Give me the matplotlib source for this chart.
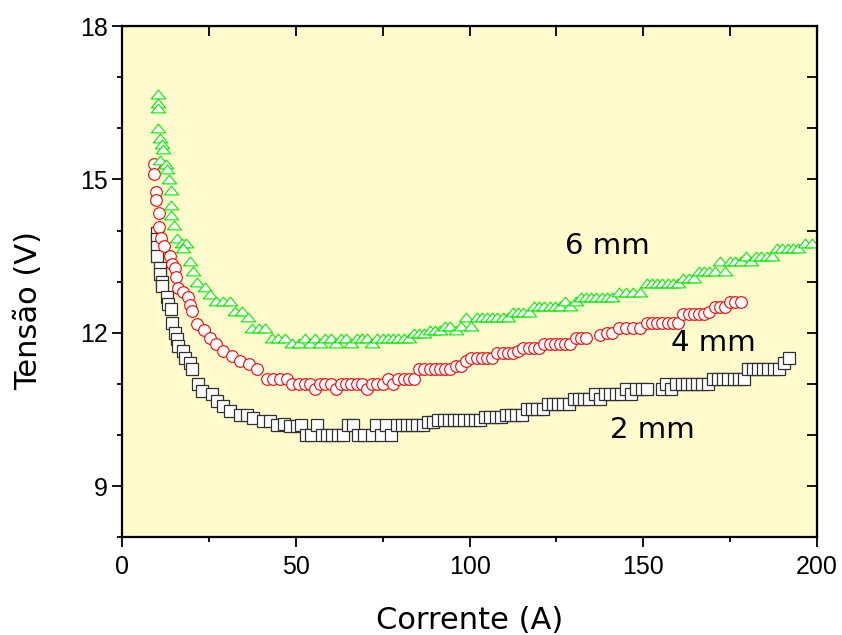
import matplotlib
matplotlib.use('Agg')
import matplotlib.pyplot as plt
from matplotlib.ticker import MultipleLocator

plt.rcParams['font.family'] = ['Liberation Sans', 'DejaVu Sans']

# 2 mm (squares)
sq_x = [10.0, 10.0, 10.0, 10.0, 10.9, 10.9, 11.4, 11.6, 12.9, 13.3, 14.1, 14.3, 15.3, 15.7, 16.2,
        17.6, 18.1, 19.6, 20.0, 21.9, 22.9, 25.8, 27.2, 29.1, 31.0, 34.0, 36.0, 37.7, 40.6, 42.5,
        44.5, 46.5, 48.3, 50.3, 51.5, 53.0, 54.5, 56.0, 57.5, 59.0, 60.5, 62.0, 63.5, 65.0, 66.5,
        68.0, 69.5, 72.0, 73.0, 74.5, 76.0, 77.5, 79.0, 80.5, 82.0, 83.5, 85.0, 86.5, 88.0, 89.5,
        91.0, 92.5, 94.0, 95.5, 97.0, 98.5, 100.0, 101.5, 103.0, 104.5, 106.0, 107.5, 109.0, 110.5,
        112.0, 113.5, 115.0, 116.5, 118.0, 119.5, 121.0, 122.5, 124.0, 125.5, 127.0, 128.5, 130.0,
        131.5, 133.0, 134.5, 136.0, 137.5, 139.0, 140.5, 142.0, 143.5, 145.0, 146.5, 148.0, 149.5,
        151.0, 155.5, 156.5, 158.0, 159.5, 161.0, 162.5, 164.0, 165.5, 167.0, 168.5, 170.0, 171.5,
        173.0, 174.5, 176.0, 177.5, 179.0, 180.0, 181.5, 183.0, 184.5, 186.0, 187.5, 189.0, 190.5,
        192.0]
sq_y = [13.96, 13.84, 13.67, 13.5, 13.27, 13.15, 13.0, 12.92, 12.69, 12.57, 12.47, 12.2, 12.0,
        11.88, 11.75, 11.65, 11.5, 11.4, 11.3, 11.0, 10.86, 10.8, 10.67, 10.57, 10.47, 10.4, 10.4,
        10.33, 10.27, 10.27, 10.2, 10.22, 10.18, 10.18, 10.2, 10.0, 10.0, 10.2, 10.0, 10.0, 10.0,
        10.0, 10.0, 10.2, 10.2, 10.0, 10.0, 10.0, 10.2, 10.0, 10.2, 10.0, 10.2, 10.2, 10.2, 10.2,
        10.2, 10.2, 10.25, 10.25, 10.3, 10.3, 10.3, 10.3, 10.3, 10.3, 10.3, 10.3, 10.3, 10.35,
        10.35, 10.35, 10.35, 10.4, 10.4, 10.4, 10.4, 10.5, 10.5, 10.5, 10.5, 10.6, 10.6, 10.6,
        10.6, 10.6, 10.7, 10.7, 10.7, 10.7, 10.8, 10.7, 10.8, 10.8, 10.8, 10.8, 10.9, 10.8, 10.9,
        10.9, 10.9, 10.9, 11.0, 10.9, 11.0, 11.0, 11.0, 11.0, 11.0, 11.0, 11.0, 11.1, 11.1, 11.1,
        11.1, 11.1, 11.1, 11.1, 11.3, 11.3, 11.3, 11.3, 11.3, 11.3, 11.3, 11.4, 11.5]

# 4 mm (circles)
ci_x = [9.2, 9.3, 9.8, 9.8, 10.5, 10.5, 11.2, 12.0, 13.8, 14.5, 15.3, 15.6, 16.1, 17.5, 19.0,
        19.5, 20.0, 21.6, 23.5, 25.3, 27.0, 29.0, 31.5, 34.0, 36.5, 38.8, 41.7, 43.5, 45.5, 47.5,
        49.0, 51.0, 52.5, 54.0, 55.5, 57.0, 58.5, 60.0, 61.5, 63.0, 64.5, 66.0, 67.5, 69.0, 70.5,
        72.0, 73.5, 75.0, 76.5, 78.0, 79.5, 81.0, 82.5, 84.0, 85.5, 87.0, 88.5, 90.0, 91.5, 93.0,
        94.5, 96.0, 97.5, 99.0, 100.5, 102.0, 103.5, 105.0, 106.5, 108.0, 109.5, 111.0, 112.5,
        114.0, 115.5, 117.0, 118.5, 120.0, 121.5, 123.0, 124.5, 126.0, 127.5, 129.0, 130.5, 132.0,
        133.5, 137.5, 139.5, 141.0, 143.0, 145.0, 147.0, 149.0, 151.0, 152.5, 154.0, 155.5, 157.0,
        158.5, 160.0, 161.5, 163.0, 164.5, 166.0, 167.5, 169.0, 170.5, 172.0, 173.5, 175.0, 176.5,
        178.0]
ci_y = [15.3, 15.1, 14.75, 14.6, 14.35, 14.06, 13.86, 13.7, 13.5, 13.35, 13.27, 13.1, 12.88,
        12.8, 12.7, 12.55, 12.43, 12.18, 12.05, 11.9, 11.78, 11.65, 11.55, 11.45, 11.38, 11.3,
        11.1, 11.1, 11.1, 11.1, 11.0, 11.0, 11.0, 11.0, 10.9, 11.0, 11.0, 11.0, 10.9, 11.0, 11.0,
        11.0, 11.0, 11.0, 10.9, 11.0, 11.0, 11.0, 11.1, 11.0, 11.1, 11.1, 11.1, 11.1, 11.3, 11.3,
        11.3, 11.3, 11.3, 11.3, 11.3, 11.35, 11.35, 11.45, 11.5, 11.5, 11.5, 11.5, 11.5, 11.6,
        11.6, 11.6, 11.6, 11.65, 11.7, 11.7, 11.7, 11.7, 11.78, 11.78, 11.78, 11.78, 11.78, 11.78,
        11.9, 11.9, 11.9, 11.95, 12.0, 12.0, 12.1, 12.1, 12.1, 12.1, 12.2, 12.2, 12.2, 12.2, 12.2,
        12.2, 12.2, 12.37, 12.37, 12.37, 12.37, 12.37, 12.4, 12.5, 12.5, 12.5, 12.6, 12.6, 12.6]

# 6 mm (triangles)
tr_x = [10.4, 10.4, 10.4, 10.4, 11.0, 11.4, 11.8, 11.0, 12.5, 13.0, 13.5, 14.0, 14.0, 14.2,
        14.8, 15.7, 17.2, 18.5, 17.5, 19.6, 20.5, 21.5, 23.8, 25.2, 27.0, 29.0, 31.0, 32.5, 34.5,
        36.2, 37.5, 39.5, 41.0, 43.0, 45.0, 47.0, 49.0, 51.0, 52.5, 54.0, 55.5, 57.0, 58.5, 60.0,
        61.5, 63.0, 64.5, 66.0, 67.5, 69.0, 70.5, 72.0, 73.5, 75.0, 76.5, 78.0, 79.5, 81.0, 82.5,
        84.0, 85.5, 87.0, 88.5, 90.0, 91.5, 93.0, 94.5, 96.0, 97.5, 99.0, 100.5, 102.0, 103.5,
        105.0, 106.5, 108.0, 109.5, 111.0, 112.5, 114.0, 115.5, 117.0, 118.5, 120.0, 121.5, 123.0,
        124.5, 126.0, 127.5, 129.0, 130.5, 132.0, 133.5, 135.0, 136.5, 138.0, 139.5, 141.0, 143.0,
        145.0, 147.0, 149.0, 151.0, 152.5, 154.0, 155.5, 157.0, 158.5, 160.0, 161.5, 163.0, 164.5,
        166.0, 167.5, 169.0, 170.5, 172.0, 173.5, 175.0, 176.5, 178.0, 179.5, 181.0, 182.5, 184.0,
        185.5, 187.0, 188.5, 190.0, 191.5, 193.0, 194.5, 196.5, 198.5]
tr_y = [16.67, 16.5, 16.4, 16.0, 15.8, 15.7, 15.6, 15.37, 15.3, 15.2, 15.0, 14.8, 14.5, 14.3,
        14.1, 13.86, 13.75, 13.75, 13.65, 13.4, 13.2, 13.0, 12.9, 12.76, 12.63, 12.63, 12.63,
        12.43, 12.43, 12.3, 12.1, 12.1, 12.1, 11.9, 11.9, 11.9, 11.8, 11.8, 11.9, 11.8, 11.9, 11.8,
        11.9, 11.9, 11.8, 11.9, 11.9, 11.8, 11.9, 11.9, 11.9, 11.8, 11.9, 11.9, 11.9, 11.9, 11.9,
        11.9, 11.9, 12.0, 12.0, 12.0, 12.05, 12.05, 12.05, 12.13, 12.13, 12.05, 12.13, 12.3, 12.13,
        12.3, 12.3, 12.3, 12.3, 12.3, 12.3, 12.3, 12.4, 12.4, 12.4, 12.4, 12.53, 12.53, 12.53,
        12.53, 12.53, 12.53, 12.63, 12.53, 12.63, 12.7, 12.7, 12.7, 12.7, 12.7, 12.7, 12.7, 12.8,
        12.8, 12.8, 12.8, 12.98, 12.98, 12.98, 12.98, 12.98, 12.98, 12.98, 13.08, 13.08, 13.08,
        13.2, 13.2, 13.2, 13.2, 13.4, 13.2, 13.4, 13.4, 13.4, 13.5, 13.4, 13.5, 13.5, 13.5, 13.5,
        13.65, 13.65, 13.65, 13.65, 13.65, 13.75, 13.75]

labels = ['2 mm', '4 mm', '6 mm']
label_pos = [(140.5, 10.1), (158.0, 11.8), (127.5, 13.7)]

fig = plt.figure(figsize=(8.42, 6.35), dpi=100)
ax = fig.add_axes([0.145, 0.154, 0.8254, 0.805])
ax.set_facecolor('#fffbcc')

tri = [(-1, -0.62), (1, -0.62), (0, 0.62), (-1, -0.62)]
ax.plot(sq_x, sq_y, ls='none', marker='s', ms=8.4, mfc='white', mec='#303030', mew=0.9)
ax.plot(ci_x, ci_y, ls='none', marker='o', ms=8.4, mfc='white', mec='#ff0000', mew=0.8)
ax.plot(tr_x, tr_y, ls='none', marker=tri, ms=10.2, mfc='white', mec='#00f000', mew=0.8)

for txt, (x, y) in zip(labels, label_pos):
    ax.text(x, y, txt, fontsize=21, va='center', ha='left', family='DejaVu Sans')

ax.set_xlim(0, 200)
ax.set_ylim(8, 18)
ax.xaxis.set_major_locator(MultipleLocator(50))
ax.xaxis.set_minor_locator(MultipleLocator(25))
ax.yaxis.set_minor_locator(MultipleLocator(1))
ax.set_yticks([9, 12, 15, 18])

for s in ax.spines.values():
    s.set_linewidth(1.6)

ax.tick_params(which='both', direction='out', width=1.3, labelsize=18)
ax.tick_params(axis='x', which='major', pad=6)
ax.tick_params(axis='y', which='major', pad=3)
ax.tick_params(which='major', length=7)
ax.tick_params(which='minor', length=3.5)
# ticks on top and right point inward
ax2 = ax.secondary_xaxis('top')
ax2.xaxis.set_major_locator(MultipleLocator(25))
ax2.tick_params(direction='in', length=7, width=1.3)
ax2.set_xticklabels([])
ax3 = ax.secondary_yaxis('right')
ax3.yaxis.set_major_locator(MultipleLocator(1))
ax3.tick_params(direction='in', length=7, width=1.3)
ax3.set_yticklabels([])

ax.set_xlabel('Corrente (A)', fontsize=22, family='DejaVu Sans', va='center')
ax.set_ylabel('Tensão (V)', fontsize=22, family='DejaVu Sans', va='center')
ax.xaxis.set_label_coords(0.5, -0.162)
ax.yaxis.set_label_coords(-0.135, 0.444)

fig.savefig('out.png', dpi=100)
